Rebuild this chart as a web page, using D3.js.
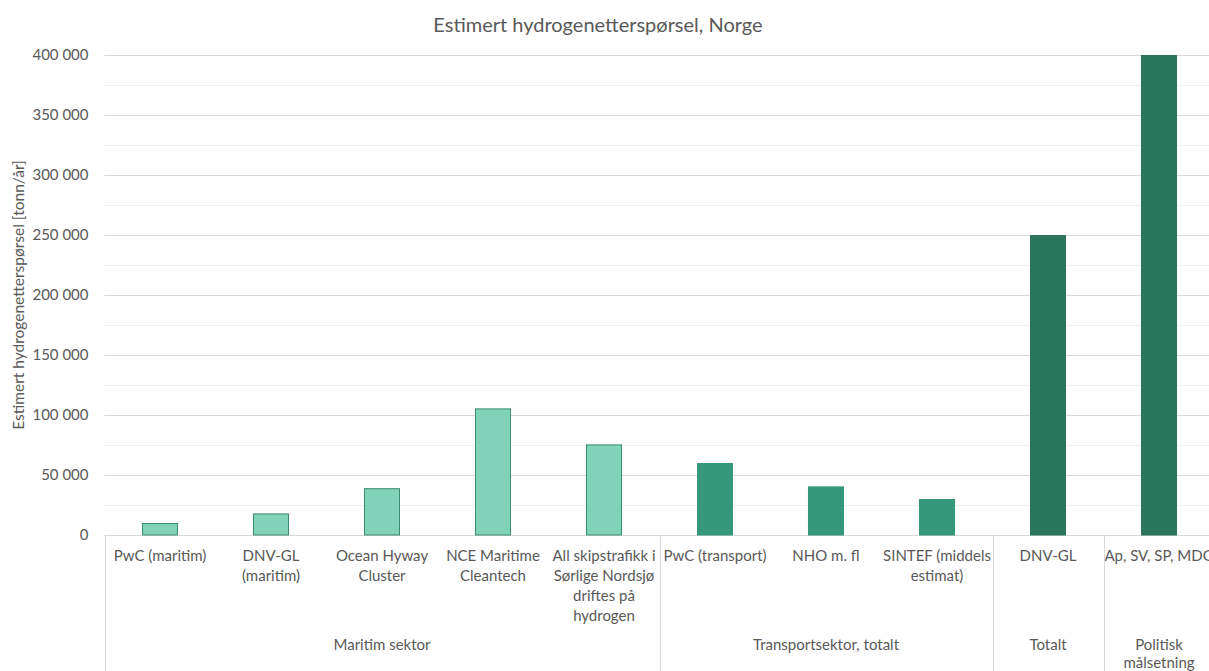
<!DOCTYPE html>
<html>
<head>
<meta charset="utf-8">
<script src="https://cdn.jsdelivr.net/npm/d3@7"></script>
<style>
  html, body { margin: 0; padding: 0; background: #fff; }
  svg { display: block; }
  text { font-family: Lato, "Open Sans", sans-serif; fill: #595959; }
</style>
</head>
<body>
<svg id="chart" width="1209" height="671"></svg>
<script>
const title = "Estimert hydrogenetterspørsel, Norge";
const yTitle = "Estimert hydrogenetterspørsel [tonn/år]";
const categories = [
  "PwC (maritim)",
  "DNV-GL\n(maritim)",
  "Ocean Hyway\nCluster",
  "NCE Maritime\nCleantech",
  "All skipstrafikk i\nSørlige Nordsjø\ndriftes på\nhydrogen",
  "PwC (transport)",
  "NHO m. fl",
  "SINTEF (middels\nestimat)",
  "DNV-GL",
  "Ap, SV, SP, MDG"
];
const values = [10000, 18000, 39000, 105500, 75500, 60000, 40500, 30000, 250000, 400000];
const groupOf = [0, 0, 0, 0, 0, 1, 1, 1, 2, 3];
const groups = ["Maritim sektor", "Transportsektor, totalt", "Totalt", "Politisk\nmålsetning"];
const yTicks = [0, 50000, 100000, 150000, 200000, 250000, 300000, 350000, 400000];
const yMinorTicks = [25000, 75000, 125000, 175000, 225000, 275000, 325000, 375000];

const fillColors = ["#80d3b8", "#35987a", "#2b755c", "#2b755c"];
const strokeColors = ["#3a8c6f", "#35987a", "#2b755c", "#2b755c"];

const svg = d3.select("#chart");
const pLeft = 104.5, pRight = 1214.5, pTop = 55, pBottom = 535;

const x = d3.scaleBand().domain(d3.range(categories.length)).range([pLeft, pRight]).padding(0);
const y = d3.scaleLinear().domain([0, 400000]).range([pBottom, pTop]);
const loc = d3.formatLocale({decimal: ",", thousands: " ", grouping: [3], currency: ["", ""]});
const fmt = loc.format(",d");

// minor gridlines
svg.append("g").selectAll("line").data(yMinorTicks).join("line")
  .attr("x1", pLeft).attr("x2", 1209)
  .attr("y1", d => Math.round(y(d)) + 0.5).attr("y2", d => Math.round(y(d)) + 0.5)
  .attr("stroke", "#f0f0f0").attr("stroke-width", 1);

// y axis with major gridlines
const yAxis = d3.axisLeft(y).tickValues(yTicks).tickFormat(fmt).tickSize(0).tickPadding(16);
const gy = svg.append("g").attr("transform", `translate(${pLeft},0)`).call(yAxis);
gy.select(".domain").remove();
gy.selectAll("text").attr("font-size", 15).attr("font-family", "Lato").attr("fill", "#595959");
gy.selectAll(".tick").append("line")
  .attr("x1", 0).attr("x2", 1209 - pLeft)
  .attr("stroke", "#d9d9d9").attr("stroke-width", 1);

// bars
const bw = x.bandwidth() / 3.08;
svg.append("g").selectAll("rect").data(values).join("rect")
  .attr("x", (d, i) => x(i) + (x.bandwidth() - bw) / 2 + 0.5)
  .attr("y", d => y(d) + 0.5)
  .attr("width", bw - 1)
  .attr("height", d => pBottom - y(d) - 0.5)
  .attr("fill", (d, i) => fillColors[groupOf[i]])
  .attr("stroke", (d, i) => strokeColors[groupOf[i]])
  .attr("stroke-width", 1);

// category labels
const lh = 20;
const cat = svg.append("g");
categories.forEach((c, i) => {
  const t = cat.append("text")
    .attr("x", x(i) + x.bandwidth() / 2)
    .attr("y", 561)
    .attr("text-anchor", "middle")
    .attr("font-size", 15);
  c.split("\n").forEach((line, j) => {
    t.append("tspan").attr("x", x(i) + x.bandwidth() / 2).attr("dy", j === 0 ? 0 : lh).text(line);
  });
});

// group separators and labels
const bounds = [];
groups.forEach((g, gi) => {
  const idx = groupOf.map((v, i) => v === gi ? i : -1).filter(v => v >= 0);
  bounds.push({start: x(idx[0]), end: x(idx[idx.length - 1]) + x.bandwidth(), label: g});
});
svg.append("g").selectAll("line").data(bounds).join("line")
  .attr("x1", d => Math.round(d.start) + 0.5).attr("x2", d => Math.round(d.start) + 0.5)
  .attr("y1", pBottom).attr("y2", 671)
  .attr("stroke", "#d9d9d9").attr("stroke-width", 1);

bounds.forEach(b => {
  const cx = (b.start + Math.min(b.end, pRight)) / 2;
  const t = svg.append("text")
    .attr("x", cx).attr("y", 650)
    .attr("text-anchor", "middle").attr("font-size", 15);
  b.label.split("\n").forEach((line, j) => {
    t.append("tspan").attr("x", cx).attr("dy", j === 0 ? 0 : 18).text(line);
  });
});

// title
svg.append("text").attr("x", 598).attr("y", 32)
  .attr("text-anchor", "middle").attr("font-size", 20).text(title);

// y-axis title
svg.append("text")
  .attr("transform", `translate(24,${(pTop + pBottom) / 2}) rotate(-90)`)
  .attr("text-anchor", "middle").attr("font-size", 15.5).text(yTitle);
</script>
</body>
</html>
